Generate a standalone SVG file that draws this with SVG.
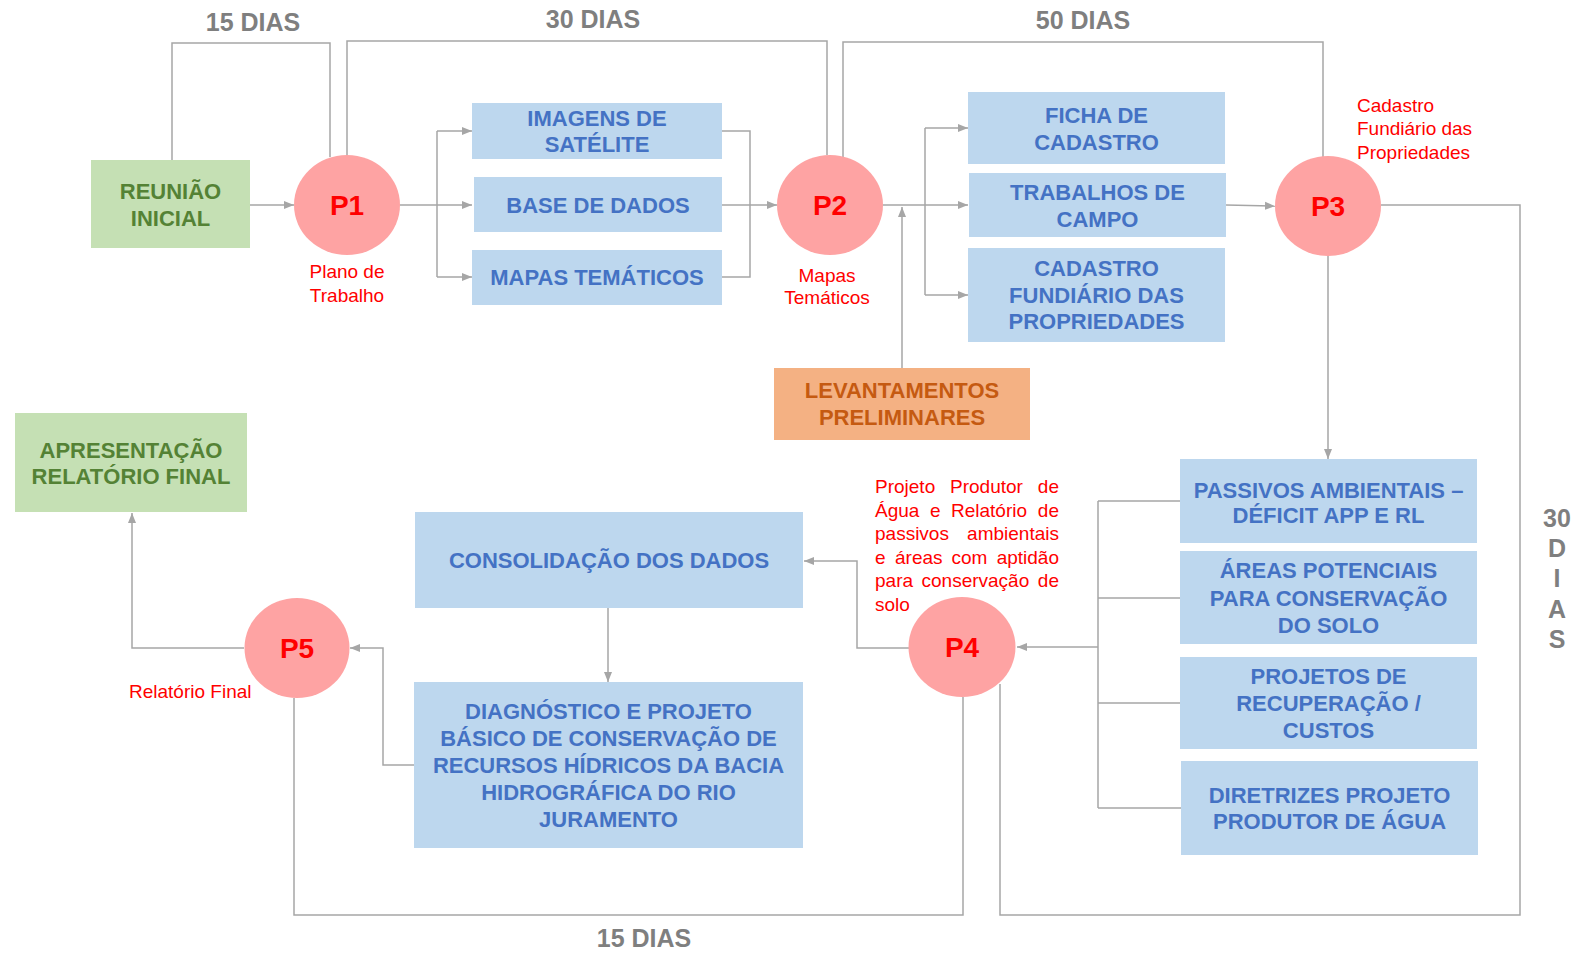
<svg xmlns="http://www.w3.org/2000/svg" width="1575" height="953" viewBox="0 0 1575 953">
<style>
.blue{fill:#bdd7ee}
.green{fill:#c5e0b4}
.orange{fill:#f4b183}
.circ{fill:#fea3a3}
.bt{font-family:"Liberation Sans",Arial,sans-serif;font-weight:bold;font-size:22px;fill:#4472c4;text-anchor:middle}
.gt{font-family:"Liberation Sans",Arial,sans-serif;font-weight:bold;font-size:22px;fill:#548235;text-anchor:middle}
.ot{font-family:"Liberation Sans",Arial,sans-serif;font-weight:bold;font-size:22px;fill:#c55a11;text-anchor:middle}
.pt{font-family:"Liberation Sans",Arial,sans-serif;font-weight:bold;font-size:28px;fill:#ff0000;text-anchor:middle}
.rl{font-family:"Liberation Sans",Arial,sans-serif;font-size:19px;fill:#ff0000}
.dias{font-family:"Liberation Sans",Arial,sans-serif;font-weight:bold;font-size:25px;fill:#7f7f7f;text-anchor:middle}
.ln{fill:none;stroke:#a6a6a6;stroke-width:1.5}
.ar{marker-end:url(#ah)}
</style>
<defs>
<marker id="ah" markerUnits="userSpaceOnUse" markerWidth="10" markerHeight="10" viewBox="0 0 10 10" refX="10" refY="5" orient="auto">
<path d="M0,1 L10,5 L0,9 Z" fill="#a6a6a6"/>
</marker>
</defs>
<rect width="1575" height="953" fill="#ffffff"/>

<g id="connectors">
<polyline class="ln ar" points="250,205 294,205"/>
<polyline class="ln" points="172,160 172,43 330,43 330,157"/>
<polyline class="ln" points="347,155 347,41 827,41 827,155"/>
<polyline class="ln" points="843,157 843,42 1323,42 1323,157"/>
<polyline class="ln ar" points="400,205 472,205"/>
<polyline class="ln" points="437,131 437,277"/>
<polyline class="ln ar" points="437,131 472,131"/>
<polyline class="ln ar" points="437,277 472,277"/>
<polyline class="ln" points="722,131 750,131 750,277 722,277"/>
<polyline class="ln ar" points="722,205 777,205"/>
<polyline class="ln ar" points="883,205 968,205"/>
<polyline class="ln" points="925,128 925,295"/>
<polyline class="ln ar" points="925,128 968,128"/>
<polyline class="ln ar" points="925,295 968,295"/>
<polyline class="ln ar" points="902,368 902,207"/>
<polyline class="ln ar" points="1226,205 1275,206"/>
<polyline class="ln ar" points="1328,256 1328,459"/>
<polyline class="ln" points="1381,205 1520,205 1520,915 1000,915 1000,684"/>
<polyline class="ln" points="1098,501 1098,808"/>
<polyline class="ln" points="1180,501 1098,501"/>
<polyline class="ln" points="1180,598 1098,598"/>
<polyline class="ln" points="1180,703 1098,703"/>
<polyline class="ln" points="1181,808 1098,808"/>
<polyline class="ln ar" points="1098,647 1017,647"/>
<polyline class="ln ar" points="909,648 857,648 857,561 804,561"/>
<polyline class="ln ar" points="608,608 608,682"/>
<polyline class="ln ar" points="414,765 383,765 383,648 350,648"/>
<polyline class="ln ar" points="244,648 132,648 132,513"/>
<polyline class="ln" points="294,698 294,915 963,915 963,697"/>
</g>

<g id="labels-dias">
<text class="dias" x="253" y="31">15 DIAS</text>
<text class="dias" x="593" y="28">30 DIAS</text>
<text class="dias" x="1083" y="29">50 DIAS</text>
<text class="dias" x="644" y="947">15 DIAS</text>
<text class="dias" x="1557" y="527">30</text>
<text class="dias" x="1557" y="557">D</text>
<text class="dias" x="1557" y="587">I</text>
<text class="dias" x="1557" y="618">A</text>
<text class="dias" x="1557" y="648">S</text>
</g>

<g id="reuniao">
<rect class="green" x="91" y="160" width="159" height="88"/>
<text class="gt" x="170.5" y="199">REUNIÃO</text>
<text class="gt" x="170.5" y="226">INICIAL</text>
</g>

<g id="p1">
<ellipse class="circ" cx="347" cy="205" rx="53" ry="50"/>
<text class="pt" x="347" y="215">P1</text>
<text class="rl" x="347" y="278" text-anchor="middle">Plano de</text>
<text class="rl" x="347" y="302" text-anchor="middle">Trabalho</text>
</g>

<g id="imagens">
<rect class="blue" x="472" y="103" width="250" height="56"/>
<text class="bt" x="597" y="126">IMAGENS DE</text>
<text class="bt" x="597" y="152">SATÉLITE</text>
</g>
<g id="base">
<rect class="blue" x="474" y="177" width="248" height="55"/>
<text class="bt" x="598" y="213">BASE DE DADOS</text>
</g>
<g id="mapas">
<rect class="blue" x="472" y="250" width="250" height="55"/>
<text class="bt" x="597" y="285">MAPAS TEMÁTICOS</text>
</g>

<g id="p2">
<ellipse class="circ" cx="830" cy="205" rx="53" ry="50"/>
<text class="pt" x="830" y="215">P2</text>
<text class="rl" x="827" y="282" text-anchor="middle">Mapas</text>
<text class="rl" x="827" y="304" text-anchor="middle">Temáticos</text>
</g>

<g id="ficha">
<rect class="blue" x="968" y="92" width="257" height="72"/>
<text class="bt" x="1096.5" y="123">FICHA DE</text>
<text class="bt" x="1096.5" y="150">CADASTRO</text>
</g>
<g id="trabalhos">
<rect class="blue" x="969" y="173" width="257" height="64"/>
<text class="bt" x="1097.5" y="200">TRABALHOS DE</text>
<text class="bt" x="1097.5" y="227">CAMPO</text>
</g>
<g id="cadastro">
<rect class="blue" x="968" y="248" width="257" height="94"/>
<text class="bt" x="1096.5" y="276">CADASTRO</text>
<text class="bt" x="1096.5" y="303">FUNDIÁRIO DAS</text>
<text class="bt" x="1096.5" y="329">PROPRIEDADES</text>
</g>

<g id="levantamentos">
<rect class="orange" x="774" y="368" width="256" height="72"/>
<text class="ot" x="902" y="398">LEVANTAMENTOS</text>
<text class="ot" x="902" y="425">PRELIMINARES</text>
</g>

<g id="p3">
<ellipse class="circ" cx="1328" cy="206" rx="53" ry="50"/>
<text class="pt" x="1328" y="216">P3</text>
<text class="rl" x="1357" y="112">Cadastro</text>
<text class="rl" x="1357" y="135">Fundiário das</text>
<text class="rl" x="1357" y="159">Propriedades</text>
</g>

<g id="passivos">
<rect class="blue" x="1180" y="459" width="297" height="84"/>
<text class="bt" x="1328.5" y="498">PASSIVOS AMBIENTAIS –</text>
<text class="bt" x="1328.5" y="523">DÉFICIT APP E RL</text>
</g>
<g id="areas">
<rect class="blue" x="1180" y="551" width="297" height="93"/>
<text class="bt" x="1328.5" y="578">ÁREAS POTENCIAIS</text>
<text class="bt" x="1328.5" y="606">PARA CONSERVAÇÃO</text>
<text class="bt" x="1328.5" y="633">DO SOLO</text>
</g>
<g id="projetos">
<rect class="blue" x="1180" y="657" width="297" height="92"/>
<text class="bt" x="1328.5" y="684">PROJETOS DE</text>
<text class="bt" x="1328.5" y="711">RECUPERAÇÃO /</text>
<text class="bt" x="1328.5" y="738">CUSTOS</text>
</g>
<g id="diretrizes">
<rect class="blue" x="1181" y="761" width="297" height="94"/>
<text class="bt" x="1329.5" y="803">DIRETRIZES PROJETO</text>
<text class="bt" x="1329.5" y="829">PRODUTOR DE ÁGUA</text>
</g>

<g id="p4">
<ellipse class="circ" cx="962" cy="647" rx="53.5" ry="50"/>
<text class="pt" x="962" y="657">P4</text>
<text class="rl" x="875" y="493">Projeto</text>
<text class="rl" x="950" y="493">Produtor</text>
<text class="rl" x="1059" y="493" text-anchor="end">de</text>
<text class="rl" x="875" y="516.5">Água</text>
<text class="rl" x="930" y="516.5">e</text>
<text class="rl" x="951" y="516.5">Relatório</text>
<text class="rl" x="1059" y="516.5" text-anchor="end">de</text>
<text class="rl" x="875" y="540">passivos</text>
<text class="rl" x="1059" y="540" text-anchor="end">ambientais</text>
<text class="rl" x="875" y="563.5">e</text>
<text class="rl" x="895" y="563.5">áreas</text>
<text class="rl" x="951.5" y="563.5">com</text>
<text class="rl" x="1059" y="563.5" text-anchor="end">aptidão</text>
<text class="rl" x="875" y="587">para</text>
<text class="rl" x="921.5" y="587">conservação</text>
<text class="rl" x="1059" y="587" text-anchor="end">de</text>
<text class="rl" x="875" y="610.5">solo</text>
</g>

<g id="consolidacao">
<rect class="blue" x="415" y="512" width="388" height="96"/>
<text class="bt" x="609" y="568">CONSOLIDAÇÃO DOS DADOS</text>
</g>
<g id="diagnostico">
<rect class="blue" x="414" y="682" width="389" height="166"/>
<text class="bt" x="608.5" y="719">DIAGNÓSTICO E PROJETO</text>
<text class="bt" x="608.5" y="746">BÁSICO DE CONSERVAÇÃO DE</text>
<text class="bt" x="608.5" y="773">RECURSOS HÍDRICOS DA BACIA</text>
<text class="bt" x="608.5" y="800">HIDROGRÁFICA DO RIO</text>
<text class="bt" x="608.5" y="827">JURAMENTO</text>
</g>

<g id="p5">
<ellipse class="circ" cx="297" cy="648" rx="52.5" ry="50"/>
<text class="pt" x="297" y="658">P5</text>
<text class="rl" x="129" y="698">Relatório Final</text>
</g>

<g id="apresentacao">
<rect class="green" x="15" y="413" width="232" height="99"/>
<text class="gt" x="131" y="458">APRESENTAÇÃO</text>
<text class="gt" x="131" y="484">RELATÓRIO FINAL</text>
</g>
</svg>
